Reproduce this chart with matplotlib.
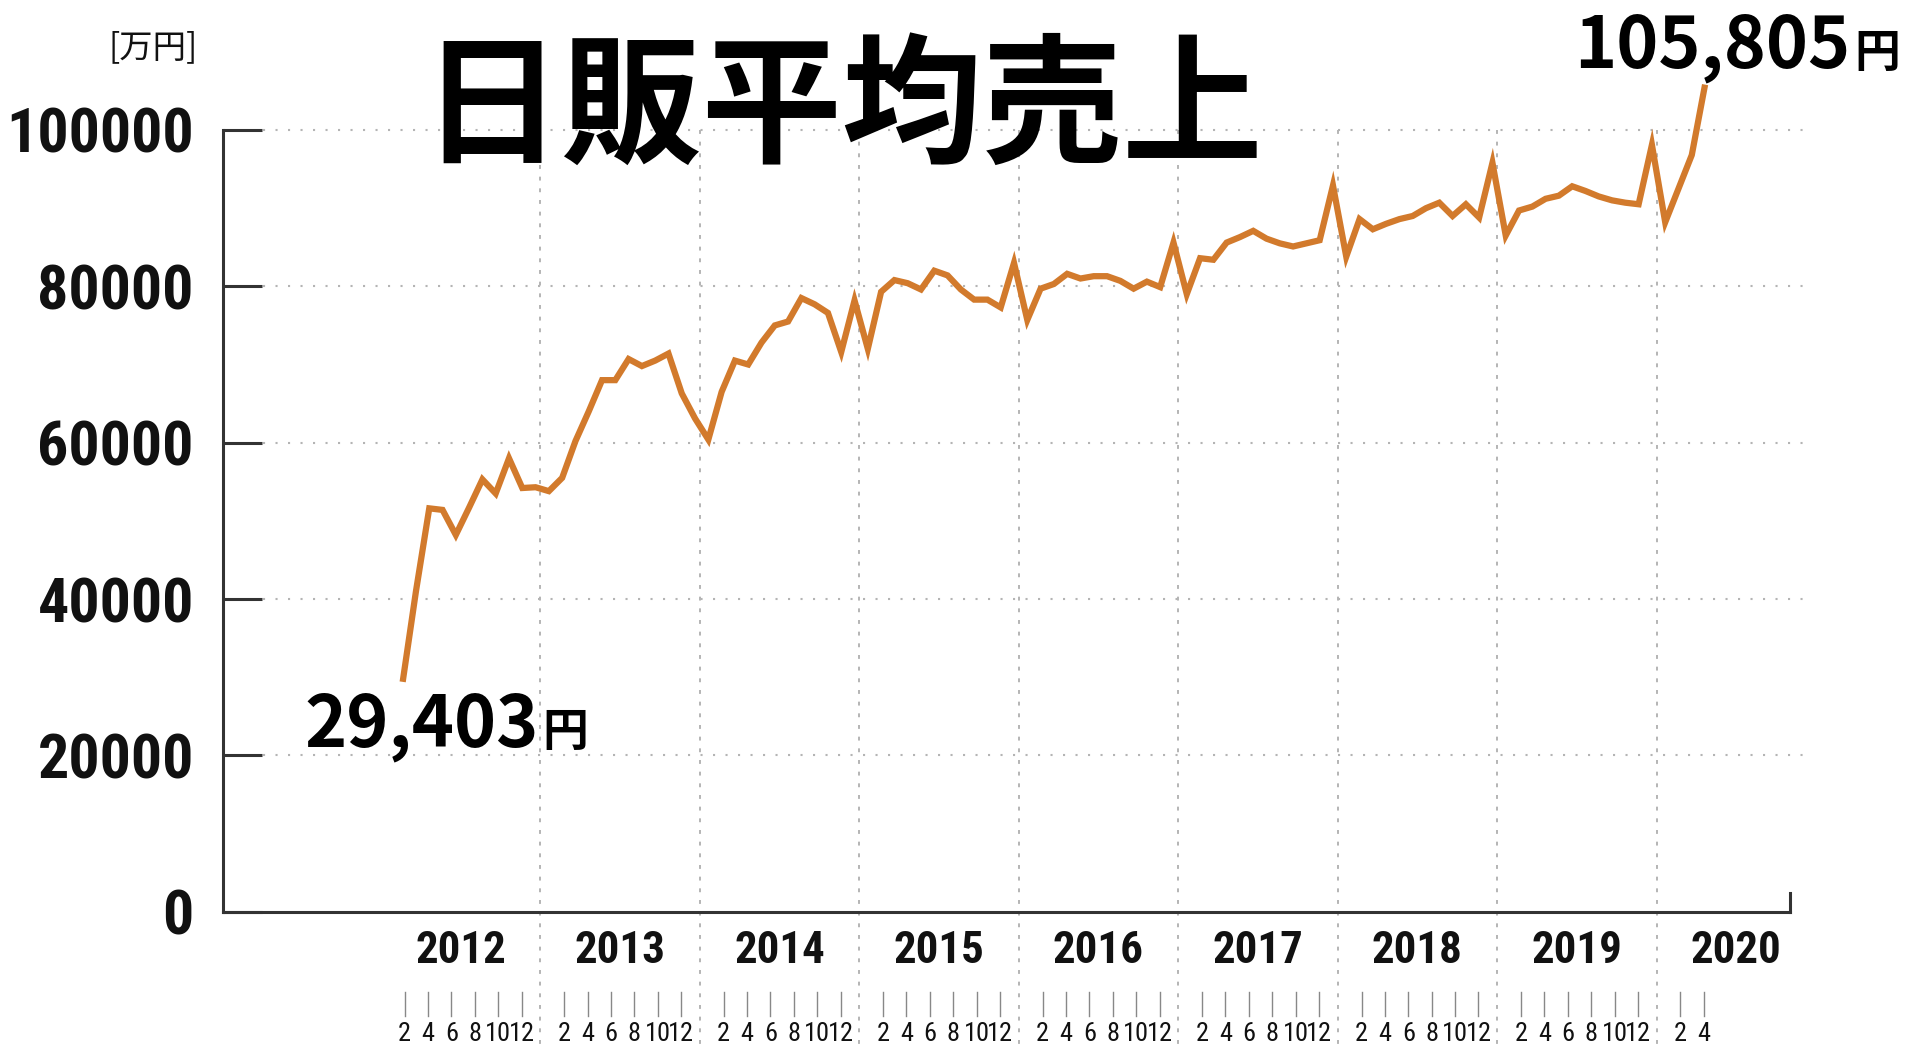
import numpy as np
import matplotlib
matplotlib.use('Agg')
import matplotlib.pyplot as plt
from matplotlib import font_manager
from matplotlib.transforms import blended_transform_factory

# daily average sales per store, monthly, Mar 2012 - May 2020
start_month = 3  # March 2012
sales = [
    # 2012 (Mar-Dec)
    29403, 41000, 51600, 51400, 48200, 51700, 55300, 53500, 58000, 54200,
    # 2013
    54300, 53800, 55500, 60200, 64000, 68000, 68000, 70700, 69800, 70500, 71400, 66300,
    # 2014
    63100, 60400, 66500, 70500, 70000, 72800, 75000, 75500, 78500, 77700, 76600, 71600,
    # 2015
    78200, 72000, 79300, 80800, 80400, 79600, 82000, 81400, 79600, 78300, 78300, 77300,
    # 2016
    83000, 75700, 79700, 80300, 81600, 81000, 81300, 81300, 80700, 79700, 80600, 79900,
    # 2017
    85600, 79000, 83600, 83400, 85600, 86300, 87100, 86100, 85500, 85100, 85500, 85900,
    # 2018
    92900, 83800, 88600, 87300, 88000, 88600, 89000, 90000, 90700, 89000, 90500, 88800,
    # 2019
    95800, 86500, 89700, 90200, 91200, 91600, 92800, 92200, 91500, 91000, 90700, 90500,
    # 2020 (Jan-May)
    98100, 88200, 92500, 96800, 105805,
]
years = [2012, 2013, 2014, 2015, 2016, 2017, 2018, 2019, 2020]
month_ticks = [2, 4, 6, 8, 10, 12]
month_ticks_last = [2, 4]
y_ticks = [0, 20000, 40000, 60000, 80000, 100000]
first_label = '29,403'
last_label = '105,805'
title = '日販平均売上'
unit = '[万円]'

W, H = 1922, 1047
cjk = ['Noto Sans CJK JP', 'DejaVu Sans']

# look for a narrow face for the axis numbers
names = {f.name for f in font_manager.fontManager.ttflist}
num_font, num_stretch, k = 'Noto Sans CJK JP', 'normal', 0.83
for want in ['Liberation Sans Narrow', 'DejaVu Sans Condensed', 'Roboto Condensed',
             'Open Sans Condensed', 'Noto Sans Condensed']:
    if want in names:
        num_font, k = want, 0.95
        break
else:
    for f in font_manager.fontManager.ttflist:
        if f.name in ('DejaVu Sans', 'Noto Sans', 'Open Sans', 'Roboto') and \
                str(f.stretch) in ('condensed', 'semi-condensed', 'extra-condensed'):
            num_font, num_stretch, k = f.name, 'condensed', 0.81
            break

line_color = '#d27a2c'
axis_color = '#333333'
grid_color = '#b4b4b4'

def fy(px):  # pixel row -> figure fraction
    return 1 - px / H

fig = plt.figure(figsize=(W / 100, H / 100), dpi=100)
ax = fig.add_axes([223 / W, fy(911.7), (1790 - 223) / W, (911.7 - 130) / H])

x = np.arange(len(sales)) + (start_month - 1)  # months since Jan 2012
ax.set_xlim(-11.52, 106.39)
ax.set_ylim(0, 100000)

# horizontal dotted grid
ax.hlines(y_ticks[1:], -8.5, 107.4, colors=grid_color, linestyles=(0, (1, 5)),
          linewidth=1.5, clip_on=False, zorder=1)

# year separators (from 100000 down to the bottom of the picture)
sep = blended_transform_factory(ax.transData, fig.transFigure)
grid_x = [12 * (y - 2012) + 0.35 for y in years]
for gx in grid_x[1:]:
    ax.plot([gx, gx], [fy(130), 0], transform=sep, color=grid_color,
            linestyle=(0, (2, 4)), linewidth=1.4, clip_on=False, zorder=1)

# year labels + month ticks
for yr, gx in zip(years, grid_x):
    ax.text(gx + 6, fy(951), str(yr), transform=sep, ha='center', va='center',
            fontsize=34 * k, fontweight='bold', family=num_font, stretch=num_stretch,
            color='#111111')
    months = month_ticks_last if yr == years[-1] else month_ticks
    for m in months:
        mx = gx + 1.8 + (m - 2) * 0.88
        ax.plot([mx, mx], [fy(992), fy(1016)], transform=sep, color='#888888',
                linewidth=1.0, clip_on=False)
        ax.text(mx, fy(1034), str(m), transform=sep, ha='center', va='center',
                fontsize=20 * k, family=num_font, stretch=num_stretch, color='#111111')

# data line
ax.plot(x, sales, color=line_color, linewidth=4.5, clip_on=False, zorder=3,
        solid_joinstyle='miter', solid_capstyle='butt')

# axes styling
for s in ['top', 'right']:
    ax.spines[s].set_visible(False)
for s in ['left', 'bottom']:
    ax.spines[s].set_color(axis_color)
    ax.spines[s].set_linewidth(2.2)
ax.plot([1, 1], [0, (911.7 - 893) / (911.7 - 130)], transform=ax.transAxes,
        color=axis_color, linewidth=2.2, clip_on=False)
ax.set_xticks([])
ax.set_yticks(y_ticks)
ax.set_yticklabels([str(v) for v in y_ticks])
ax.tick_params(axis='y', direction='in', length=28, width=2.2, color=axis_color, pad=21)
for lab in ax.get_yticklabels():
    lab.set_fontsize(47 * k)
    lab.set_fontweight('bold')
    lab.set_family(num_font)
    lab.set_stretch(num_stretch)
    lab.set_color('#111111')

# title and unit
fig.text(842 / W, fy(152), title, ha='center', va='baseline', fontsize=101,
         fontweight='bold', family=cjk, color='black')
fig.text(153 / W, fy(48), unit, ha='center', va='center', fontsize=24,
         family=cjk, color='#111111')

# end-point annotations
t1 = fig.text(304 / W, fy(746), first_label, ha='left', va='baseline', fontsize=51.5,
              fontweight='bold', family=cjk, color='black')
t2 = fig.text(1574 / W, fy(67), last_label, ha='left', va='baseline', fontsize=51.5,
              fontweight='bold', family=cjk, color='black')
fig.canvas.draw()
r = fig.canvas.get_renderer()
for t in (t1, t2):
    bb = t.get_window_extent(r)
    fig.text((bb.x1 + 4) / W, t.get_position()[1], '円', ha='left', va='baseline',
             fontsize=33, fontweight='bold', family=cjk, color='black')

fig.savefig('out.png', dpi=100, facecolor='white')
